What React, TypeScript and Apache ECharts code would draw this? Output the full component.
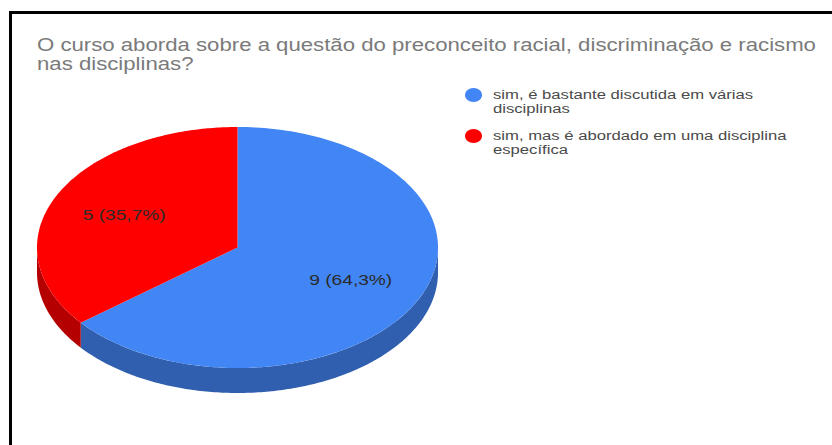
import React, { useEffect, useRef } from "react";
import * as echarts from "echarts";

const titleText = "O curso aborda sobre a questão do preconceito racial, discriminação e racismo\nnas disciplinas?";
const categories = ["sim, é bastante discutida em várias\ndisciplinas", "sim, mas é abordado em uma disciplina\nespecífica"];
const values = [9, 5];
const sliceLabels = ["9 (64,3%)", "5 (35,7%)"];
const topColors = ["#4285f4", "#ff0000"];
const sideColors = ["#2f5fae", "#b40000"];

const FONT = "'Liberation Sans', Arial, sans-serif";
const STRETCH = 1.235; // the reference image is stretched horizontally
const TITLE_STRETCH = 1.268;
const CX = 237.5, CY = 247.5, RX = 200.5, RY = 120.5, DEPTH = 25;
const LEGEND_Y = [95, 136];
const LEGEND_TEXT_Y = [87.5, 128.5];
const total = values.reduce((a, b) => a + b, 0);

function sliceAngles(i: number): [number, number] {
  let before = 0;
  for (let k = 0; k < i; k++) before += values[k];
  return [(before / total) * Math.PI * 2, ((before + values[i]) / total) * Math.PI * 2];
}
function rim(a: number, dy = 0): [number, number] {
  return [CX + RX * Math.sin(a), CY + dy - RY * Math.cos(a)];
}
function makeRenderItem(i: number) {
  return () => {
    const [a0, a1] = sliceAngles(i);
    const top: [number, number][] = [[CX, CY]];
    const n = 180;
    for (let k = 0; k <= n; k++) top.push(rim(a0 + ((a1 - a0) * k) / n));
    // Only the front part of the rim (angles between 90° and 270°) shows a side wall.
    const s0 = Math.max(a0, Math.PI / 2), s1 = Math.min(a1, (Math.PI * 3) / 2);
    const upper: [number, number][] = [], lower: [number, number][] = [];
    for (let k = 0; k <= n; k++) {
      const a = s0 + ((s1 - s0) * k) / n;
      upper.push(rim(a));
      lower.unshift(rim(a, DEPTH));
    }
    const mid = (a0 + a1) / 2;
    const lx = CX + RX * 0.627 * Math.sin(mid);
    const ly = CY - 0.5 - RY * 0.627 * Math.cos(mid);
    return {
      type: "group",
      children: [
        { type: "polygon", shape: { points: upper.concat(lower) }, style: { fill: sideColors[i] } },
        { type: "polygon", shape: { points: top }, style: { fill: topColors[i] } },
        {
          type: "text",
          x: lx, y: ly, scaleX: STRETCH,
          style: {
            text: sliceLabels[i], fill: "#2a2a2a", font: `15.5px ${FONT}`,
            align: "center", verticalAlign: "middle",
          },
        },
      ],
    };
  };
}

export default function App() {
  const ref = useRef<HTMLDivElement>(null);
  useEffect(() => {
    document.body.style.margin = "0";
    const chart = echarts.init(ref.current!, null, { renderer: "svg" });
    chart.setOption({
      animation: false,
      backgroundColor: "#ffffff",
      graphic: [
        { type: "rect", shape: { x: 9, y: 11, width: 3, height: 434 }, style: { fill: "#000" } },
        { type: "rect", shape: { x: 9, y: 11, width: 823, height: 3 }, style: { fill: "#000" } },
        {
          type: "text", x: 37, y: 35, scaleX: TITLE_STRETCH,
          style: { text: titleText, fill: "#7a7a7a", font: `17.5px ${FONT}`, lineHeight: 19 },
        },
        ...categories.flatMap((name, i) => [
          {
            type: "ellipse", shape: { cx: 473.5, cy: LEGEND_Y[i], rx: 8.5, ry: 7 },
            style: { fill: topColors[i] },
          },
          {
            type: "text", x: 493, y: LEGEND_TEXT_Y[i], scaleX: STRETCH,
            style: { text: name, fill: "#4a4a4a", font: `13.5px ${FONT}`, lineHeight: 13.5 },
          },
        ]),
      ],
      series: categories.map((name, i) => ({
        type: "custom", name, coordinateSystem: "none", data: [values[i]],
        itemStyle: { color: topColors[i] },
        renderItem: makeRenderItem(i),
      })),
    });
    return () => chart.dispose();
  }, []);
  return <div ref={ref} style={{ width: 832, height: 445 }} />;
}
